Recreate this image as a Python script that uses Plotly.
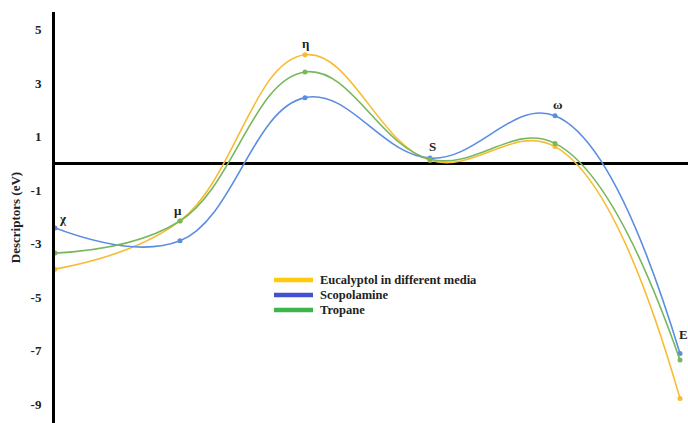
import plotly.graph_objects as go

# Descriptor labels along the curve and their values (eV)
descriptors = ["χ", "μ", "η", "S", "ω", "E"]
eucalyptol = [-3.95, -2.15, 4.06, 0.12, 0.63, -8.78]
scopolamine = [-2.41, -2.89, 2.46, 0.20, 1.78, -7.10]
tropane = [-3.35, -2.15, 3.42, 0.16, 0.75, -7.35]

y_ticks = [5, 3, 1, -1, -3, -5, -7, -9]

series = [
    ("Eucalyptol in different media", eucalyptol, "#F7BC33", "#FFC90E"),
    ("Scopolamine", scopolamine, "#5B8DE0", "#4450CF"),
    ("Tropane", tropane, "#78B75E", "#3DB54A"),
]

x_idx = list(range(len(descriptors)))
font_family = "Liberation Serif, Times New Roman, serif"

fig = go.Figure()
for name, vals, color, _ in series:
    fig.add_trace(go.Scatter(
        x=x_idx, y=vals, mode="lines+markers", name=name,
        line=dict(color=color, width=1.6, shape="spline", smoothing=1.15),
        marker=dict(color=color, size=5),
        showlegend=False, cliponaxis=False,
    ))

# Descriptor name labels placed just above each point
label_pos = [(0.06, -2.05), (-0.02, -1.75), (0.0, 4.5), (0.02, 0.62), (0.02, 2.2), (0.03, -6.4)]
for (dx, yv), txt, i in zip(label_pos, descriptors, x_idx):
    fig.add_annotation(x=i + dx, y=yv, text=f"<b>{txt}</b>", showarrow=False,
                       xref="x", yref="y",
                       font=dict(family=font_family, size=13, color="#222"))

# Legend drawn as line swatches with text
legend_rows = [280, 295, 310]
plot_top, plot_h = 12, 411
plot_left, plot_w = 55, 633
for (name, _, _, lcolor), py in zip(series, legend_rows):
    yp = 1 - (py - plot_top) / plot_h
    x0 = (274 - plot_left) / plot_w
    x1 = (313 - plot_left) / plot_w
    fig.add_shape(type="line", xref="paper", yref="paper", x0=x0, x1=x1, y0=yp, y1=yp,
                  line=dict(color=lcolor, width=4.5))
    fig.add_annotation(xref="paper", yref="paper", x=(319 - plot_left) / plot_w, y=yp,
                       xanchor="left", yanchor="middle", showarrow=False,
                       text=f"<b>{name}</b>", borderpad=0,
                       font=dict(family=font_family, size=12.5, color="#222"))

fig.update_layout(
    width=688, height=423,
    margin=dict(l=55, r=0, t=12, b=0),
    paper_bgcolor="white", plot_bgcolor="white",
    showlegend=False,
    font=dict(family=font_family, color="#222"),
)
fig.update_xaxes(range=[0, 5.064], showticklabels=False, showgrid=False,
                 zeroline=False, showline=False, ticks="")
fig.update_yaxes(range=[-9.70, 5.66], tickvals=y_ticks,
                 ticktext=[f"<b>{t}</b>" for t in y_ticks],
                 tickfont=dict(family=font_family, size=13, color="#222"),
                 showgrid=False, showline=True, linewidth=3, linecolor="black",
                 zeroline=True, zerolinewidth=3, zerolinecolor="black",
                 ticks="", ticklabelstandoff=8,
                 title=dict(text="<b>Descriptors (eV)</b>", standoff=8,
                            font=dict(family=font_family, size=13, color="#222")))

fig.write_html("out.html")
